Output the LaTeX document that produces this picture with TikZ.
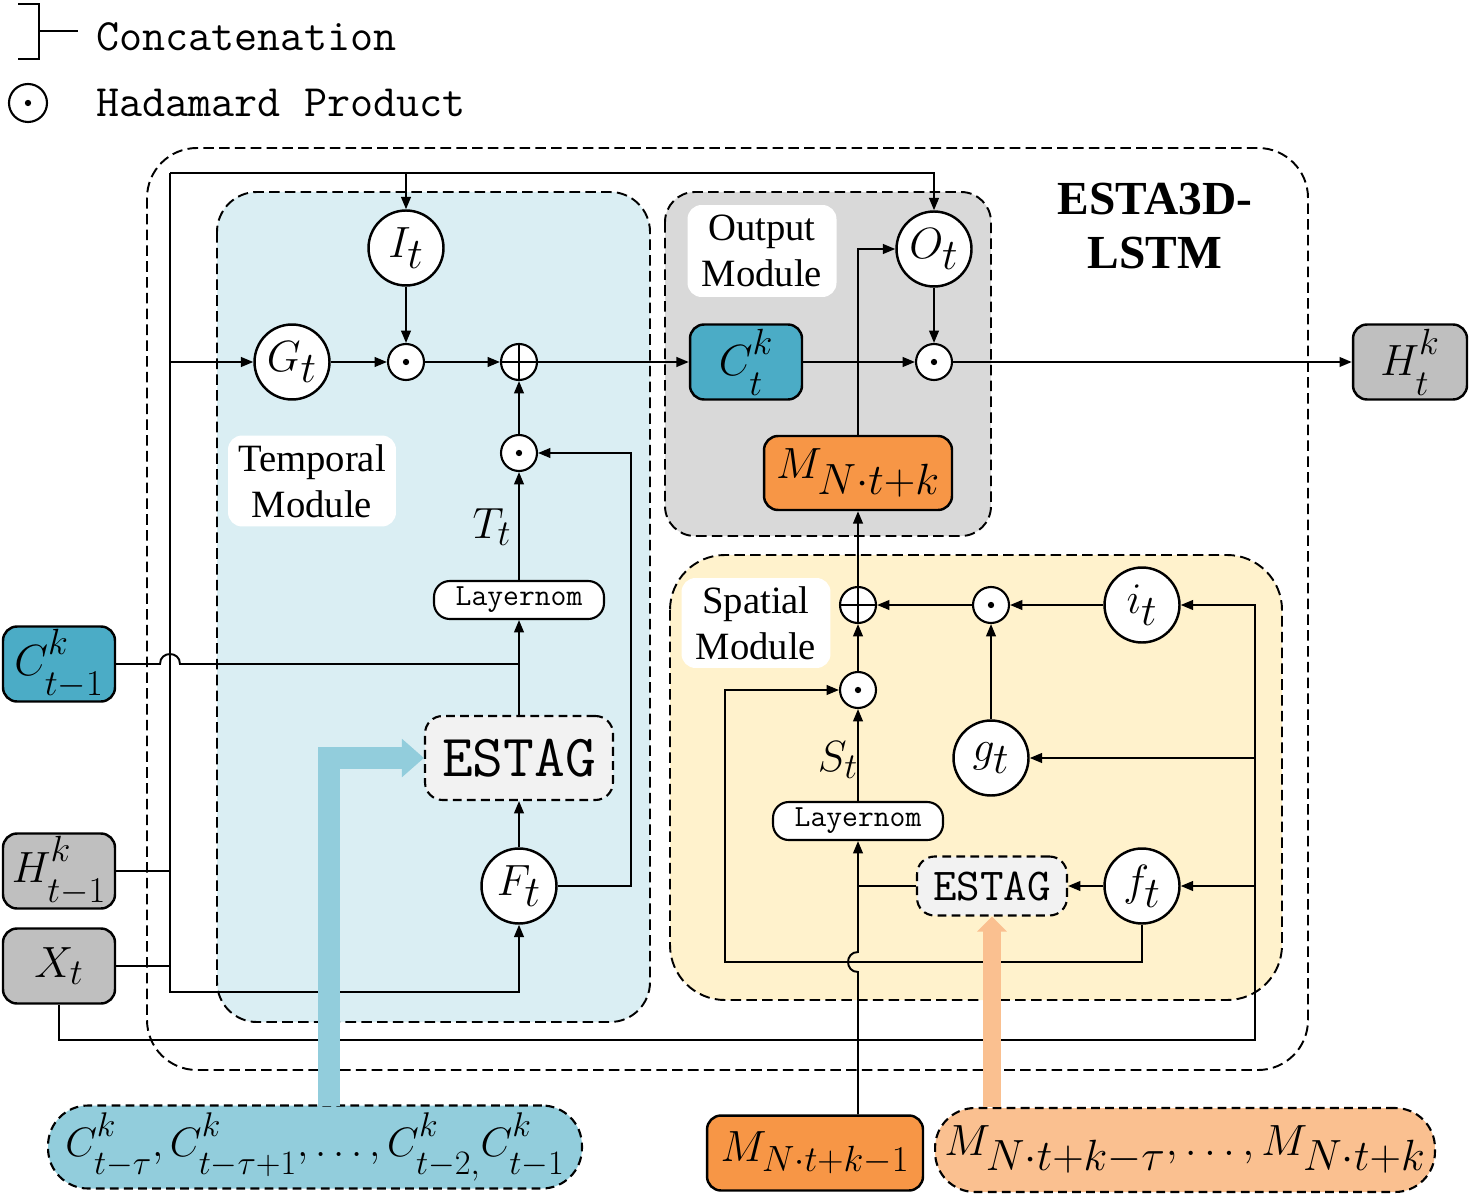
\documentclass[tikz,border=0pt]{standalone}
\usepackage{fontspec}
\setmainfont{Liberation Serif}
\usetikzlibrary{arrows.meta}
\definecolor{celeste}{HTML}{4BACC6}
\definecolor{grisnodo}{HTML}{BFBFBF}
\definecolor{naranja}{HTML}{F79646}
\definecolor{naranjaclaro}{HTML}{FAC090}
\definecolor{azulclaro}{HTML}{92CDDC}
\definecolor{fondotemp}{HTML}{DAEEF3}
\definecolor{fondosal}{HTML}{D9D9D9}
\definecolor{fondoesp}{HTML}{FFF2CC}
\definecolor{fondoestag}{HTML}{F2F2F2}
\newcommand{\subbajo}[1]{\raisebox{-5pt}{$\scriptstyle #1$}}
\newcommand{\supalto}[1]{\raisebox{3pt}{$\scriptstyle #1$}}

\begin{document}
\begin{tikzpicture}[
    x=0.02cm, y=-0.02cm,
    every node/.style={inner sep=0pt},
    compuerta/.style={circle, draw, line width=1.4pt, fill=white, minimum size=1.5cm,
        font=\fontsize{36}{40}\selectfont},
    producto/.style={circle, draw, line width=1.2pt, fill=white, minimum size=0.72cm,
        path picture={\fill[black] (path picture bounding box.center) circle (1.8pt);}},
    suma/.style={circle, draw, line width=1.2pt, fill=white, minimum size=0.72cm,
        path picture={\draw[black, line width=1.2pt] (path picture bounding box.north) -- (path picture bounding box.south)
            (path picture bounding box.west) -- (path picture bounding box.east);}},
    caja/.style={draw, line width=1.4pt, rounded corners=8pt, minimum width=2.24cm,
        minimum height=1.5cm, font=\fontsize{32}{36}\selectfont},
    capa/.style={draw, line width=1.2pt, fill=white, rounded corners=9pt, minimum width=3.4cm,
        minimum height=0.76cm, font=\ttfamily\fontsize{17.5}{20}\selectfont},
    estag/.style={draw, line width=1.2pt, dash pattern=on 5pt off 3pt, fill=fondoestag, rounded corners=10pt},
    modulo/.style={draw, line width=1.1pt, dash pattern=on 6pt off 3pt},
    etiqueta/.style={fill=white, rounded corners=8pt, align=center,
        font=\fontsize{22}{26}\selectfont},
    secuencia/.style={draw, line width=1.2pt, dash pattern=on 5pt off 3pt, rounded corners=0.8cm},
    flecha/.style={-{Triangle[length=7pt, width=5.5pt]}, line width=1.1pt},
    linea/.style={line width=1.1pt},
    leyenda/.style={anchor=west, font=\ttfamily\fontsize{25.5}{29}\selectfont}
]
\useasboundingbox (0,0) rectangle (1469,1202);

\draw[modulo, rounded corners=1cm] (147,148) rectangle (1308,1070);
\draw[modulo, fill=fondotemp, rounded corners=0.8cm] (217,192) rectangle (650,1022);
\draw[modulo, fill=fondosal, rounded corners=0.6cm] (665,192) rectangle (991,536);
\draw[modulo, fill=fondoesp, rounded corners=1.1cm] (670,555) rectangle (1282,1000);

\draw[line width=1.3pt] (18,4) -- (39,4) -- (39,59) -- (18,59);
\draw[line width=1.3pt] (39,31) -- (78,31);
\node[leyenda] (tcon) at (96,37) {Concatenation};
\node[producto, minimum size=0.76cm] (hleg) at (28,103) {};
\node[leyenda] (thad) at (96,103) {Hadamard Product};

\node[etiqueta, minimum width=3.36cm, minimum height=1.82cm] (lbt) at (312,481) {Temporal\\Module};
\node[etiqueta, minimum width=2.98cm, minimum height=1.84cm] (lbo) at (762,251) {Output\\Module};
\node[etiqueta, minimum width=2.98cm, minimum height=1.8cm] (lbs) at (756,623) {Spatial\\Module};
\node[font=\bfseries\fontsize{27}{31}\selectfont, align=center] (titulo) at (1155,226) {ESTA3D-\\LSTM};

\node[compuerta] (it) at (406,248) {$I_t$};
\node[compuerta] (gt) at (292,362) {$G_t$};
\node[producto] (h1) at (406,362) {};
\node[suma] (p1) at (519,362) {};
\node[producto] (h2) at (519,453) {};
\node[font=\fontsize{30}{34}\selectfont] (tt) at (492,527) {$T_t$};
\node[capa] (ln1) at (519,600) {Layernom};
\node[estag, minimum width=3.76cm, minimum height=1.68cm, font=\ttfamily\fontsize{34}{38}\selectfont] (es1) at (519,758) {ESTAG};
\node[compuerta] (ft) at (519,886) {$F_t$};

\node[compuerta] (ot) at (934,249) {$O_t$};
\node[caja, fill=celeste] (ct) at (746,362) {$C^{\supalto{k}}_{\subbajo{t}}$};
\node[producto] (h3) at (934,362) {};
\node[caja, fill=naranja, minimum width=3.76cm, minimum height=1.48cm, font=\fontsize{34}{38}\selectfont] (mt) at (858,473) {$M_{N\cdot t+k}$};
\node[caja, fill=grisnodo, minimum width=2.28cm] (ht) at (1410,362) {$H^{\supalto{k}}_{\subbajo{t}}$};

\node[caja, fill=celeste] (ckm1) at (59,664) {$C^{\supalto{k}}_{\subbajo{t-1}}$};
\node[caja, fill=grisnodo] (hkm1) at (59,871) {$H^{\supalto{k}}_{\subbajo{t-1}}$};
\node[caja, fill=grisnodo] (xt) at (59,966) {$X_t$};

\node[suma] (p2) at (858,605) {};
\node[producto] (h4) at (991,605) {};
\node[compuerta] (it2) at (1142,605) {$i_t$};
\node[compuerta] (gt2) at (991,758) {$g_t$};
\node[producto] (h5) at (858,690) {};
\node[font=\fontsize{30}{34}\selectfont] (st) at (838,760) {$S_t$};
\node[capa] (ln2) at (858,821) {Layernom};
\node[estag, minimum width=3cm, minimum height=1.18cm, font=\ttfamily\fontsize{26}{30}\selectfont] (es2) at (992,886) {ESTAG};
\node[compuerta] (ft2) at (1142,886) {$f_t$};

\node[secuencia, fill=azulclaro, minimum width=10.68cm, minimum height=1.66cm, font=\fontsize{30}{34}\selectfont] (cseq) at (315,1147)
    {\scalebox{0.94}{$C^{\supalto{k}}_{\subbajo{t-\tau}},C^{\supalto{k}}_{\subbajo{t-\tau+1}},\ldots,C^{\supalto{k}}_{\subbajo{t-2,}}C^{\supalto{k}}_{\subbajo{t-1}}$}};
\node[caja, fill=naranja, minimum width=4.32cm] (mk1) at (815,1153) {$M_{N\cdot t+k-1}$};
\node[secuencia, fill=naranjaclaro, minimum width=10cm, minimum height=1.68cm, font=\fontsize{33}{37}\selectfont] (mseq) at (1185,1150)
    {$M_{N\cdot t+k-\tau},\ldots,M_{N\cdot t+k}$};

\coordinate (esq) at (170,173);
\coordinate (base) at (170,992);
\coordinate (derecha) at (1255,1040);
\coordinate (retorno) at (725,962);
\coordinate (pie) at (329,1106);

\draw[flecha] (esq) -- (base) -| (ft.south);
\draw[flecha] (esq) -| (ot.north);
\draw[flecha] (it.north |- esq) -- (it);
\draw[flecha] (esq |- gt) -- (gt);
\draw[linea] (hkm1) -- (esq |- hkm1);
\draw[linea] (xt) -- (esq |- xt);
\draw[linea] (ckm1) -- (160,664) .. controls (160,650.7) and (180,650.7) .. (180,664) -- (ln1.south |- ckm1);

\draw[flecha] (gt) -- (h1);
\draw[flecha] (it) -- (h1);
\draw[flecha] (h1) -- (p1);
\draw[flecha] (h2) -- (p1);
\draw[flecha] (ln1) -- (h2);
\draw[flecha] (es1) -- (ln1);
\draw[flecha] (ft) -- (es1);
\draw[flecha] (ft.east) -- (631,886) |- (h2);
\draw[flecha] (p1) -- (ct);

\draw[flecha] (ct) -- (h3);
\draw[flecha] (ot) -- (h3);
\draw[flecha] (h3) -- (ht);
\draw[flecha] (mt.north) |- (ot.west);
\draw[flecha] (p2) -- (mt);

\draw[flecha] (xt.south) |- (derecha) |- (it2);
\draw[flecha] (derecha |- gt2) -- (gt2);
\draw[flecha] (derecha |- ft2) -- (ft2);
\draw[flecha] (it2) -- (h4);
\draw[flecha] (h4) -- (p2);
\draw[flecha] (gt2) -- (h4);
\draw[flecha] (h5) -- (p2);
\draw[flecha] (ln2) -- (h5);
\draw[flecha] (ft2) -- (es2);
\draw[linea] (es2.west) -- (ln2.south |- es2.west);
\draw[flecha] (ln2.south |- mk1.north) -- (858,972) .. controls (844.7,972) and (844.7,952) .. (858,952) -- (ln2.south);
\draw[flecha] (ft2.south) |- (retorno) |- (h5);

\draw[azulclaro, line width=0.44cm, -{Triangle[length=0.44cm, width=0.74cm]}] (pie) |- (es1.west);
\draw[naranjaclaro, line width=0.36cm, -{Triangle[length=0.3cm, width=0.58cm]}] (mseq.north -| es2.south) -- (es2.south);
\end{tikzpicture}
\end{document}
